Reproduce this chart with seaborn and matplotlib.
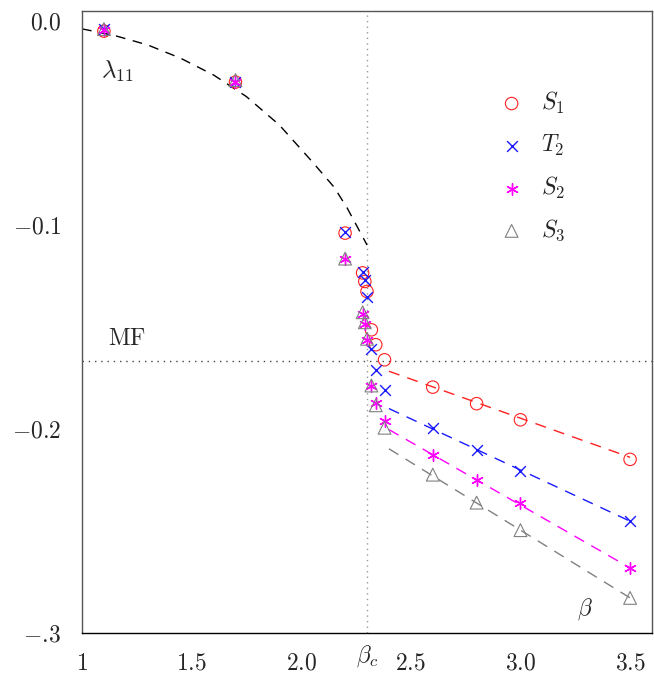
import matplotlib
matplotlib.use("Agg")
import matplotlib.pyplot as plt
import matplotlib.transforms as mtransforms
import seaborn as sns
import pandas as pd
import numpy as np

# ---------------- data ----------------
beta = [1.1, 1.7, 2.2, 2.28, 2.29, 2.30, 2.32, 2.34, 2.38, 2.6, 2.8, 3.0, 3.5]
S1 = [-0.005, -0.030, -0.104, -0.1235, -0.1277, -0.1326, -0.1514, -0.1587, -0.1661, -0.1795, -0.1876, -0.1955, -0.2149]
T2 = [-0.004, -0.030, -0.1035, -0.1232, -0.1269, -0.1354, -0.1607, -0.1710, -0.1808, -0.1994, -0.2105, -0.2208, -0.2452]
S2 = [-0.0045, -0.030, -0.1165, -0.1435, -0.1485, -0.1565, -0.1787, -0.1875, -0.1961, -0.2129, -0.2248, -0.2363, -0.2681]
S3 = [-0.004, -0.029, -0.1165, -0.1428, -0.1477, -0.1558, -0.1787, -0.1884, -0.1994, -0.2224, -0.2361, -0.2496, -0.2828]

# lambda_11 curve
curve_beta = [1.0, 1.15, 1.3, 1.45, 1.6, 1.75, 1.9, 2.05, 2.15, 2.21, 2.3]
curve_lam = [-0.0039, -0.0072, -0.0118, -0.0183, -0.0265, -0.0371, -0.0510, -0.0690, -0.0815, -0.0918, -0.1098]

# linear fits for beta > beta_c
fit_beta = [2.4, 3.5]
fit_S1 = [-0.1717, -0.2139]
fit_T2 = [-0.1900, -0.2452]
fit_S2 = [-0.2003, -0.2681]
fit_S3 = [-0.2097, -0.2828]

beta_c = 2.3
MF = -1.0 / 6.0

xticks = [1.0, 1.5, 2.0, 2.5, 3.0, 3.5]
xticklabels = ["$1$", "$1.5$", "$2.0$", "$2.5$", "$3.0$", "$3.5$"]
yticks = [0.0, -0.1, -0.2, -0.3]
yticklabels = ["$0.0$", "$-0.1$", "$-0.2$", r"$-.\!3$"]

series_names = ["$S_1$", "$T_2$", "$S_2$", "$S_3$"]

# ---------------- style ----------------
sns.set_theme(style="white")
plt.rcParams["mathtext.fontset"] = "cm"
plt.rcParams["font.family"] = ["DejaVu Serif"]

FS = 17
fig = plt.figure(figsize=(6.54, 6.75), dpi=100)
ax = fig.add_axes([82 / 654, 1 - 633 / 675, 570 / 654, (633 - 10.7) / 675])

red = "#ff2020"
blue = "#1a1aff"
mag = "#ff00ff"
gray = "#808080"

# reference lines
ax.axvline(beta_c, color="#999999", lw=1.0, ls=(0, (1, 3)), zorder=1)
ax.axhline(MF, color="#444444", lw=1.0, ls=(0, (1, 3.5)), zorder=1)

# curve
dfc = pd.DataFrame({"beta": curve_beta, "lam": curve_lam})
sns.lineplot(data=dfc, x="beta", y="lam", ax=ax, color="black", lw=1.0,
             linestyle=(0, (7, 5.5)), sort=False, estimator=None)

# fits
for yy, c in [(fit_S1, red), (fit_T2, blue), (fit_S2, mag), (fit_S3, gray)]:
    dff = pd.DataFrame({"beta": fit_beta, "v": yy})
    sns.lineplot(data=dff, x="beta", y="v", ax=ax, color=c, lw=1.0,
                 linestyle=(0, (8, 6)), sort=False, estimator=None)

df = pd.DataFrame({"beta": beta, "S1": S1, "T2": T2, "S2": S2, "S3": S3})

sns.scatterplot(data=df, x="beta", y="S1", ax=ax, marker="o", s=80,
                color=red, facecolor="none", edgecolor=red, linewidth=0.8, zorder=5)
sns.scatterplot(data=df, x="beta", y="T2", ax=ax, marker="x", s=60,
                color=blue, linewidth=1.0, zorder=5)
sns.scatterplot(data=df, x="beta", y="S2", ax=ax, marker=(6, 2, 0), s=70,
                color=mag, linewidth=1.0, zorder=5)
sns.scatterplot(data=df, x="beta", y="S3", ax=ax, marker="^", s=85,
                color=gray, facecolor="none", edgecolor=gray, linewidth=0.8, zorder=5)

colls = ax.collections[-4:]
leg = ax.legend(colls, series_names, loc="upper left", bbox_to_anchor=(0.733, 0.873),
                frameon=False, fontsize=FS, handlelength=1.0, handletextpad=0.75,
                labelspacing=0.72, borderpad=0, borderaxespad=0)

# ---------------- axes ----------------
ax.set_xlim(1.0, 3.6)
ax.set_ylim(-0.3, 0.005)
ax.set_xticks(xticks)
ax.set_xticklabels(xticklabels, fontsize=FS)
ax.set_yticks(yticks)
ax.set_yticklabels(yticklabels, fontsize=FS)
ax.tick_params(axis="x", direction="in", length=6, width=0.8, color="black", pad=13.5)
ax.tick_params(axis="y", direction="inout", length=12, width=0.8, color="black", pad=9)
ax.set_xlabel("")
ax.set_ylabel("")
for side in ["left", "top", "right"]:
    ax.spines[side].set_color("#555555")
    ax.spines[side].set_linewidth(1.0)
ax.spines["bottom"].set_color("black")
ax.spines["bottom"].set_linewidth(1.0)

# annotations
ax.text(1.16, -0.0245, r"$\lambda_{11}$", fontsize=FS + 1, ha="center", va="center")
ax.text(1.205, -0.1557, r"$\mathrm{MF}$", fontsize=FS, ha="center", va="center")
ax.text(3.295, -0.2885, r"$\beta$", fontsize=FS, ha="center", va="center")
trans = mtransforms.blended_transform_factory(ax.transData, ax.transAxes)
ax.text(beta_c, -0.037, r"$\beta_c$", fontsize=FS, ha="center", va="center", transform=trans)

fig.savefig("out.png", dpi=100)
